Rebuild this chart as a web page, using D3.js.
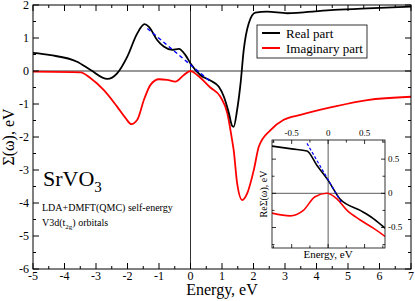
<!DOCTYPE html>
<html>
<head>
<meta charset="utf-8">
<script src="https://cdn.jsdelivr.net/npm/d3@7"></script>
<style>
  body { margin: 0; background: #fff; }
  svg { display: block; font-family: "Liberation Serif", "DejaVu Serif", serif; }
</style>
</head>
<body>
<div class="chart"></div>
<script>
// real part of the self-energy, main panel
var realE = [-5, -4.44, -3.6, -3.17, -2.64, -2.33, -2.01, -1.69, -1.46, -1.32, -1.06, -0.85, -0.58, -0.37, -0.16, 0, 0.32, 0.63, 0.9, 1.06, 1.22, 1.32, 1.37, 1.48, 1.59, 1.69, 1.85, 2.06, 2.43, 3.07, 3.49, 4.55, 5.61, 7];
var realS = [0.55, 0.48, 0.28, 0.03, -0.24, -0.07, 0.43, 1.14, 1.42, 1.34, 0.94, 0.74, 0.64, 0.67, 0.48, 0.23, -0.13, -0.29, -0.48, -0.78, -1.28, -1.66, -1.69, -1.18, -0.37, 0.64, 1.45, 1.77, 1.8, 1.75, 1.77, 1.85, 1.9, 1.95];

// imaginary part, main panel
var imagE = [-5, -3.49, -3.17, -2.75, -2.33, -2.06, -1.88, -1.69, -1.48, -1.27, -1.0, -0.74, -0.48, -0.21, 0, 0.21, 0.63, 0.95, 1.17, 1.32, 1.37, 1.48, 1.64, 1.8, 2.01, 2.17, 2.54, 2.96, 3.49, 4.55, 5.61, 7];
var imagS = [-0.02, -0.04, -0.22, -0.58, -1.08, -1.43, -1.61, -1.48, -0.88, -0.42, -0.25, -0.27, -0.32, -0.12, 0, -0.12, -0.5, -0.78, -1.28, -2.09, -2.39, -3.4, -3.91, -3.71, -3.0, -2.29, -1.79, -1.48, -1.33, -1.08, -0.88, -0.78];

// linear fit near the Fermi level
var fitE = [-1.37, 0.63];
var fitS = [1.29, -0.32];

// inset data
var inRealE = [-0.77, -0.5, -0.29, -0.155, 0, 0.16, 0.44, 0.62, 0.78];
var inRealS = [0.69, 0.65, 0.62, 0.41, 0.19, -0.08, -0.25, -0.37, -0.51];
var inImagE = [-0.77, -0.52, -0.34, -0.18, -0.02, 0.12, 0.26, 0.44, 0.62, 0.78];
var inImagS = [-0.29, -0.33, -0.25, -0.05, 0, -0.08, -0.25, -0.39, -0.51, -0.63];
var inFitE = [-0.29, 0.19];
var inFitS = [0.73, -0.15];

var xTicks = [-5, -4, -3, -2, -1, 0, 1, 2, 3, 4, 5, 6, 7];
var yTicks = [2, 1, 0, -1, -2, -3, -4, -5, -6];
var inTicks = [-0.5, 0, 0.5];

var W = 415, H = 301;
var svg = d3.select("div.chart").append("svg")
    .attr("width", W).attr("height", H);

var x = d3.scaleLinear().domain([-5, 7]).range([33, 411]);
var y = d3.scaleLinear().domain([-6, 2]).range([269, 5]);

function minor(a, b, step) {
  var out = [];
  for (var v = a; v <= b + 1e-9; v += step) out.push(+v.toFixed(4));
  return out;
}

//clip for curves
svg.append("clipPath").attr("id", "mainClip")
  .append("rect").attr("x", 33).attr("y", 5).attr("width", 378).attr("height", 264);

//zero lines
svg.append("line").attr("x1", 33).attr("x2", 411).attr("y1", y(0)).attr("y2", y(0))
   .attr("stroke", "#333").attr("stroke-width", 1);
svg.append("line").attr("x1", x(0)).attr("x2", x(0)).attr("y1", 5).attr("y2", 269)
   .attr("stroke", "#333").attr("stroke-width", 1);

var line = d3.line().curve(d3.curveMonotoneX);
function pts(xs, ys, sx, sy) { return xs.map((v, i) => [sx(v), sy(ys[i])]); }

var g = svg.append("g").attr("clip-path", "url(#mainClip)");
g.append("path").attr("d", line(pts(imagE, imagS, x, y)))
  .attr("fill", "none").attr("stroke", "#f00").attr("stroke-width", 1.8);
g.append("path").attr("d", line(pts(realE, realS, x, y)))
  .attr("fill", "none").attr("stroke", "#000").attr("stroke-width", 1.8);
g.append("path").attr("d", d3.line()(pts(fitE, fitS, x, y)))
  .attr("fill", "none").attr("stroke", "#00f").attr("stroke-width", 1.4)
  .attr("stroke-dasharray", "4,3");

//frame and ticks (inward on all sides)
svg.append("rect").attr("x", 33).attr("y", 5).attr("width", 378).attr("height", 264)
   .attr("fill", "none").attr("stroke", "#000").attr("stroke-width", 1);

var tk = svg.append("g").attr("stroke", "#000").attr("stroke-width", 1);
minor(-5, 7, 0.5).forEach(function(v) {
  var len = Number.isInteger(v) ? 6 : 3;
  tk.append("line").attr("x1", x(v)).attr("x2", x(v)).attr("y1", 269).attr("y2", 269 - len);
  tk.append("line").attr("x1", x(v)).attr("x2", x(v)).attr("y1", 5).attr("y2", 5 + len);
});
minor(-6, 2, 0.5).forEach(function(v) {
  var len = Number.isInteger(v) ? 6 : 3;
  tk.append("line").attr("x1", 33).attr("x2", 33 + len).attr("y1", y(v)).attr("y2", y(v));
  tk.append("line").attr("x1", 411).attr("x2", 411 - len).attr("y1", y(v)).attr("y2", y(v));
});

svg.append("g").selectAll("text").data(xTicks).enter().append("text")
   .attr("x", d => x(d)).attr("y", 280).attr("text-anchor", "middle")
   .attr("font-size", 12).text(d => d);
svg.append("g").selectAll("text").data(yTicks).enter().append("text")
   .attr("x", 29).attr("y", d => y(d) + 4).attr("text-anchor", "end")
   .attr("font-size", 12).text(d => d);

svg.append("text").attr("x", 222).attr("y", 295).attr("text-anchor", "middle")
   .attr("font-size", 16).text("Energy, eV");
svg.append("text").attr("transform", "translate(14,137) rotate(-90)")
   .attr("text-anchor", "middle").attr("font-size", 16).text("Σ(ω), eV");

//legend
var lg = svg.append("g");
lg.append("rect").attr("x", 257).attr("y", 25).attr("width", 110).attr("height", 33)
  .attr("fill", "#fff").attr("stroke", "#000").attr("stroke-width", 0.8);
[["Real part", "#000"], ["Imaginary part", "#f00"]].forEach(function(d, i) {
  var yy = 33 + i * 15;
  lg.append("line").attr("x1", 262).attr("x2", 280).attr("y1", yy).attr("y2", yy)
    .attr("stroke", d[1]).attr("stroke-width", 2);
  lg.append("text").attr("x", 286).attr("y", yy + 4.5).attr("font-size", 13).text(d[0]);
});

//annotations
var t1 = svg.append("text").attr("x", 43).attr("y", 186).attr("font-size", 22);
t1.append("tspan").text("SrVO");
t1.append("tspan").attr("font-size", 15).attr("dy", 6).text("3");
svg.append("text").attr("x", 42).attr("y", 211).attr("font-size", 10)
   .text("LDA+DMFT(QMC) self-energy");
var t3 = svg.append("text").attr("x", 42).attr("y", 226).attr("font-size", 10);
t3.append("tspan").text("V3d(t");
t3.append("tspan").attr("font-size", 7).attr("dy", 3).text("2g");
t3.append("tspan").attr("dy", -3).text(") orbitals");

//inset
var ix = d3.scaleLinear().domain([-0.77, 0.78]).range([272, 385]);
var iy = d3.scaleLinear().domain([-0.8, 0.78]).range([248, 140]);
var ins = svg.append("g");
ins.append("rect").attr("x", 272).attr("y", 140).attr("width", 113).attr("height", 108)
   .attr("fill", "#fff");
ins.append("clipPath").attr("id", "inClip")
   .append("rect").attr("x", 272).attr("y", 140).attr("width", 113).attr("height", 108);
ins.append("line").attr("x1", 272).attr("x2", 385).attr("y1", iy(0)).attr("y2", iy(0))
   .attr("stroke", "#333").attr("stroke-width", 0.8);
ins.append("line").attr("x1", ix(0)).attr("x2", ix(0)).attr("y1", 140).attr("y2", 248)
   .attr("stroke", "#333").attr("stroke-width", 0.8);
var ig = ins.append("g").attr("clip-path", "url(#inClip)");
ig.append("path").attr("d", line(pts(inImagE, inImagS, ix, iy)))
  .attr("fill", "none").attr("stroke", "#f00").attr("stroke-width", 1.6);
ig.append("path").attr("d", line(pts(inRealE, inRealS, ix, iy)))
  .attr("fill", "none").attr("stroke", "#000").attr("stroke-width", 1.6);
ig.append("path").attr("d", d3.line()(pts(inFitE, inFitS, ix, iy)))
  .attr("fill", "none").attr("stroke", "#00f").attr("stroke-width", 1.2)
  .attr("stroke-dasharray", "3,2");
ins.append("rect").attr("x", 272).attr("y", 140).attr("width", 113).attr("height", 108)
   .attr("fill", "none").attr("stroke", "#000").attr("stroke-width", 0.8);
var itk = ins.append("g").attr("stroke", "#000").attr("stroke-width", 0.8);
minor(-0.75, 0.75, 0.25).forEach(function(v) {
  var len = (v * 2) % 1 === 0 ? 4 : 2.5;
  itk.append("line").attr("x1", ix(v)).attr("x2", ix(v)).attr("y1", 140).attr("y2", 140 + len);
  itk.append("line").attr("x1", ix(v)).attr("x2", ix(v)).attr("y1", 248).attr("y2", 248 - len);
  itk.append("line").attr("x1", 272).attr("x2", 272 + len).attr("y1", iy(v)).attr("y2", iy(v));
  itk.append("line").attr("x1", 385).attr("x2", 385 - len).attr("y1", iy(v)).attr("y2", iy(v));
});
ins.append("g").selectAll("text").data(inTicks).enter().append("text")
   .attr("x", d => ix(d)).attr("y", 136).attr("text-anchor", "middle")
   .attr("font-size", 9).text(d => d);
ins.append("g").selectAll("text").data(inTicks).enter().append("text")
   .attr("x", 388).attr("y", d => iy(d) + 3).attr("font-size", 9).text(d => d);
ins.append("text").attr("x", 328).attr("y", 258).attr("text-anchor", "middle")
   .attr("font-size", 11).text("Energy, eV");
ins.append("text").attr("transform", "translate(267,194) rotate(-90)")
   .attr("text-anchor", "middle").attr("font-size", 10).text("ReΣ(ω), eV");
</script>
</body>
</html>
